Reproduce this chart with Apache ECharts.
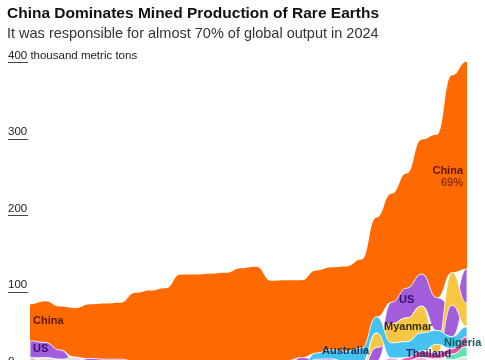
<!DOCTYPE html>
<html><head><meta charset="utf-8">
<script src="https://cdn.jsdelivr.net/npm/echarts@6/dist/echarts.min.js"></script>
<style>html,body{margin:0;padding:0;background:#fff}#c{width:485px;height:360px}</style>
</head><body><div id="c"></div>
<script>
// thousand metric tons, 1995..2024
const years = [1995,1996,1997,1998,1999,2000,2001,2002,2003,2004,2005,2006,2007,2008,2009,2010,2011,2012,2013,2014,2015,2016,2017,2018,2019,2020,2021,2022,2023,2024];
const china = [48,54,57,64,71,73,74,90,97,100,118,118,119,120,126,128,107,105,101,108,108,111,116,130,142,150,176,213,258,271];
const us = [22,20,12,5,5,5,5,4,0,0,0,0,0,0,0,0,0,0.8,5.5,5.4,5.9,0,0,18,28,39,42,43,41,45];
const myanmar = [0,0,0,0,0,0,0,0,0,0,0,0,0,0,0,0,0,0,0,0,0,0,0,19,25,31,35,12,43,31];
const australia = [2,0,0,0,0,0,0,0,0,0,0,0,0,0,0,0,2.2,3.2,2,8,12,14,19,21,20,21,24,18,16,13];
const thailand = [0,0,0,0,0,0,0,0,0,0,0,0,0,0,0,0,0,0.8,0.8,2.1,0.8,1.6,1.3,1,1.9,3.6,8.2,7.1,7.1,13];
const nigeria = [0,0,0,0,0,0,0,0,0,0,0,0,0,0,0,0,0,0,0,0,0,0,0,0,0,0,0,1,7,13];
const india = [2.7,2.7,2.7,2.7,2.7,2.7,2.7,2.7,2.7,2.7,2.7,2.7,2.7,2.7,2.7,2.7,2.8,2.9,2.9,1.7,1.5,1.5,1.5,1.8,2.9,2.9,2.9,2.9,2.9,2.9];
const russia = [6,4,3,2,2,2,2,2,2,2,2,2,2,2,2,2,2.4,2.4,2.5,2.5,2.8,2.8,2.6,2.7,2.7,2.7,2.6,2.6,2.5,2.5];
const madagascar = [0,0,0,0,0,0,0,0,0,0,0,0,0,0,0,0,0,0,0,0,0,0,0,2,4,2.8,6.8,1,2.1,2];
const other = [3.3,7.3,6.3,5.3,3.3,2.3,2.3,0.3,0.3,0.3,0.3,0.3,0.3,0.3,0.3,0.3,0.3,0.3,0.5,0.5,1.4,2.5,2.0,2,2,2,2,5,4,8];
const yTicks = [0,100,200,300,400];

const others = [
  {name:'US', data:us, color:'#A25DDC'},
  {name:'Myanmar', data:myanmar, color:'#F7C744'},
  {name:'Australia', data:australia, color:'#45C2F0'},
  {name:'Thailand', data:thailand, color:'#E8509C'},
  {name:'Nigeria', data:nigeria, color:'#62E0B4'},
  {name:'India', data:india, color:'#D7B8F2'},
  {name:'Russia', data:russia, color:'#C9C9C9'},
  {name:'Madagascar', data:madagascar, color:'#F6A9CF'},
  {name:'Other', data:other, color:'#E2E2E2'}
];

// ranked stacks: smallest at bottom, largest just below China
const bands = others.map(o => ({name:o.name, color:o.color, bot:[], top:[]}));
const chinaBand = {name:'China', color:'#FF6A00', bot:[], top:[]};
years.forEach((y, i) => {
  const order = others.map((o, k) => k).sort((a, b) => (others[a].data[i] - others[b].data[i]) || (b - a));
  let acc = 0;
  order.forEach(k => { bands[k].bot[i] = acc; acc += others[k].data[i]; bands[k].top[i] = acc; });
  chinaBand.bot[i] = acc; chinaBand.top[i] = acc + china[i];
});
const allBands = [chinaBand].concat(bands);

function ribbonPath(api, band) {
  const T = years.map((y, i) => api.coord([y, band.top[i]]));
  const B = years.map((y, i) => api.coord([y, band.bot[i]]));
  let d = 'M' + T[0][0] + ' ' + T[0][1];
  for (let i = 0; i < T.length - 1; i++) {
    const mx = (T[i][0] + T[i+1][0]) / 2;
    d += ' C' + mx + ' ' + T[i][1] + ' ' + mx + ' ' + T[i+1][1] + ' ' + T[i+1][0] + ' ' + T[i+1][1];
  }
  const n = B.length - 1;
  d += ' L' + B[n][0] + ' ' + B[n][1];
  for (let i = n; i > 0; i--) {
    const mx = (B[i][0] + B[i-1][0]) / 2;
    d += ' C' + mx + ' ' + B[i][1] + ' ' + mx + ' ' + B[i-1][1] + ' ' + B[i-1][0] + ' ' + B[i-1][1];
  }
  return d + ' Z';
}

const chart = echarts.init(document.getElementById('c'), null, {renderer:'canvas'});
const FONT = '"Liberation Sans", Arial, sans-serif';
function label(x, y, text, fill, opts) {
  return Object.assign({type:'text', x:x, y:y, z:100, zlevel:0,
    style:{text:text, font:'bold 11px '+FONT, fill:fill, textVerticalAlign:'middle'}}, opts || {});
}
const lab = [
  label(33, 321, 'China', '#5E1800'),
  label(33, 348.5, 'US', '#3B0E6E'),
  label(399, 299.7, 'US', '#3B0E6E'),
  label(384, 326.7, 'Myanmar', '#3A3000'),
  label(322, 351, 'Australia', '#0B3A66'),
  label(406, 353.5, 'Thailand', '#2E2A6E'),
  label(444, 342.5, 'Nigeria', '#0F5A5A')
];
lab.push({type:'text', x:463, y:171, z:100, style:{text:'China', font:'bold 11px '+FONT, fill:'#5E1800', textAlign:'right', textVerticalAlign:'middle'}});
lab.push({type:'text', x:463, y:182.5, z:100, style:{text:'69%', font:'11px '+FONT, fill:'#5E1800', textAlign:'right', textVerticalAlign:'middle'}});

chart.setOption({
  animation: false,
  backgroundColor: '#fff',
  grid: {left: 30, right: 18, top: 62.7, height: 305.7, containLabel: false, outerBoundsMode: 'none'},
  xAxis: {type:'value', min: years[0], max: years[years.length-1], show: false},
  yAxis: {
    type:'value', min: yTicks[0], max: yTicks[yTicks.length-1], interval: 100, offset: 22,
    axisLine: {show:false}, splitLine: {show:false},
    axisTick: {show:true, inside:true, length:20, lineStyle:{color:'#444', width:1}},
    axisLabel: {inside:true, margin:0, verticalAlign:'bottom', padding:[0,0,1,0], color:'#222', fontSize:11.5, fontFamily:FONT,
      formatter: v => v === 400 ? '400 thousand metric tons' : String(v)}
  },
  series: [{
    type: 'custom',
    coordinateSystem: 'cartesian2d',
    clip: false,
    z: 2,
    data: allBands.map((b, k) => [years[0], 0, k]),
    encode: {x:0, y:1},
    renderItem: (params, api) => {
      const b = allBands[params.dataIndex];
      const isChina = b.name === 'China';
      return {type:'path', shape:{pathData: ribbonPath(api, b)},
        style:{fill:b.color, stroke: isChina ? null : '#fff', lineWidth: isChina ? 0 : 0.8}};
    }
  }],
  graphic: [
    {type:'text', x:7, y:13.7, z:100, style:{text:'China Dominates Mined Production of Rare Earths', font:'bold 15.5px '+FONT, fill:'#111', textVerticalAlign:'middle'}},
    {type:'text', x:7, y:33.8, z:100, style:{text:'It was responsible for almost 70% of global output in 2024', font:'14.5px '+FONT, fill:'#333', textVerticalAlign:'middle'}}
  ].concat(lab)
});
</script>
</body></html>
